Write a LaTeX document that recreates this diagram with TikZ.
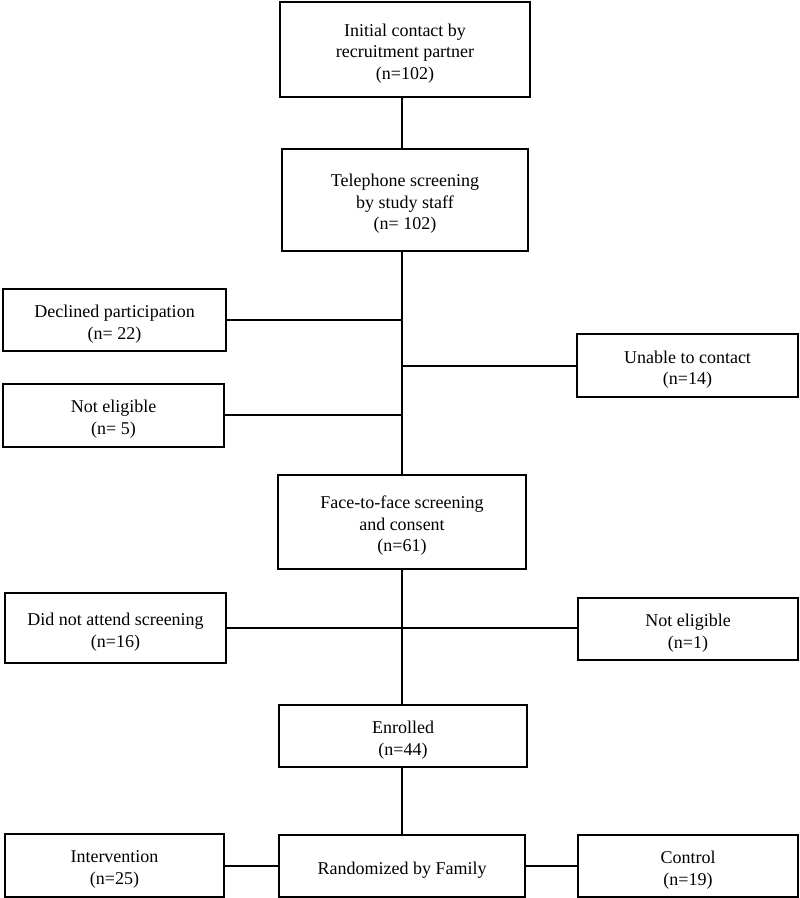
\documentclass[tikz,border=0pt]{standalone}
\usepackage{fontspec}
\setmainfont{Liberation Serif}
\newcommand{\flowbox}[6]{%
  \node[box, minimum width=#4pt, minimum height=#5pt] (#1) at (#2,#3) {};
  \node[boxtext] (#1-t) at ([yshift=-4pt]#1.center) {#6};}
\begin{document}
\begin{tikzpicture}[x=1pt,y=-1pt,
  box/.style={draw=black, line width=2pt, rectangle, inner sep=0pt, fill=white},
  boxtext/.style={inner sep=0pt, align=center, font=\fontsize{18}{21.5}\selectfont},
  conn/.style={draw=black, line width=2pt}]
\useasboundingbox (0,0) rectangle (800,898);
\coordinate (T) at (402,0);
\flowbox{b1}{405}{49.5}{250}{95}{Initial contact by\\recruitment partner\\(n=102)}
\flowbox{b2}{405}{200}{246}{102}{Telephone screening\\ by study staff\\(n= 102)}
\flowbox{dec}{114.5}{320}{223}{62}{Declined participation\\(n= 22)}
\flowbox{una}{687.5}{365.5}{221}{63}{Unable to contact\\(n=14)}
\flowbox{ne5}{113.5}{415}{221}{63}{Not eligible\\(n= 5)}
\flowbox{face}{402}{522}{248}{94}{Face-to-face screening\\and consent\\(n=61)}
\flowbox{dna}{115.5}{628}{221}{70}{Did not attend screening\\(n=16)}
\flowbox{ne1}{688}{629}{220}{62}{Not eligible\\(n=1)}
\flowbox{enr}{403}{736}{248}{62}{Enrolled\\(n=44)}
\flowbox{rand}{402}{866}{246}{62}{Randomized by Family}
\flowbox{int}{114.5}{865.5}{219}{63}{Intervention\\(n=25)}
\flowbox{ctl}{688}{866}{220}{62}{Control\\(n=19)}
% connectors
\draw[conn] (b1.south -| T) -- (b2.north -| T);
\draw[conn] (b2.south -| T) -- (face.north -| T);
\draw[conn] (dec.east) -- (dec.east -| T);
\draw[conn] (una.west) -- (una.west -| T);
\draw[conn] (ne5.east) -- (ne5.east -| T);
\draw[conn] (face.south -| T) -- (enr.north -| T);
\draw[conn] (dna.east) -- (dna.east -| ne1.west);
\draw[conn] (enr.south -| T) -- (rand.north -| T);
\draw[conn] (int.east) -- (int.east -| rand.west);
\draw[conn] (rand.east) -- (rand.east -| ctl.west);
\end{tikzpicture}
\end{document}
